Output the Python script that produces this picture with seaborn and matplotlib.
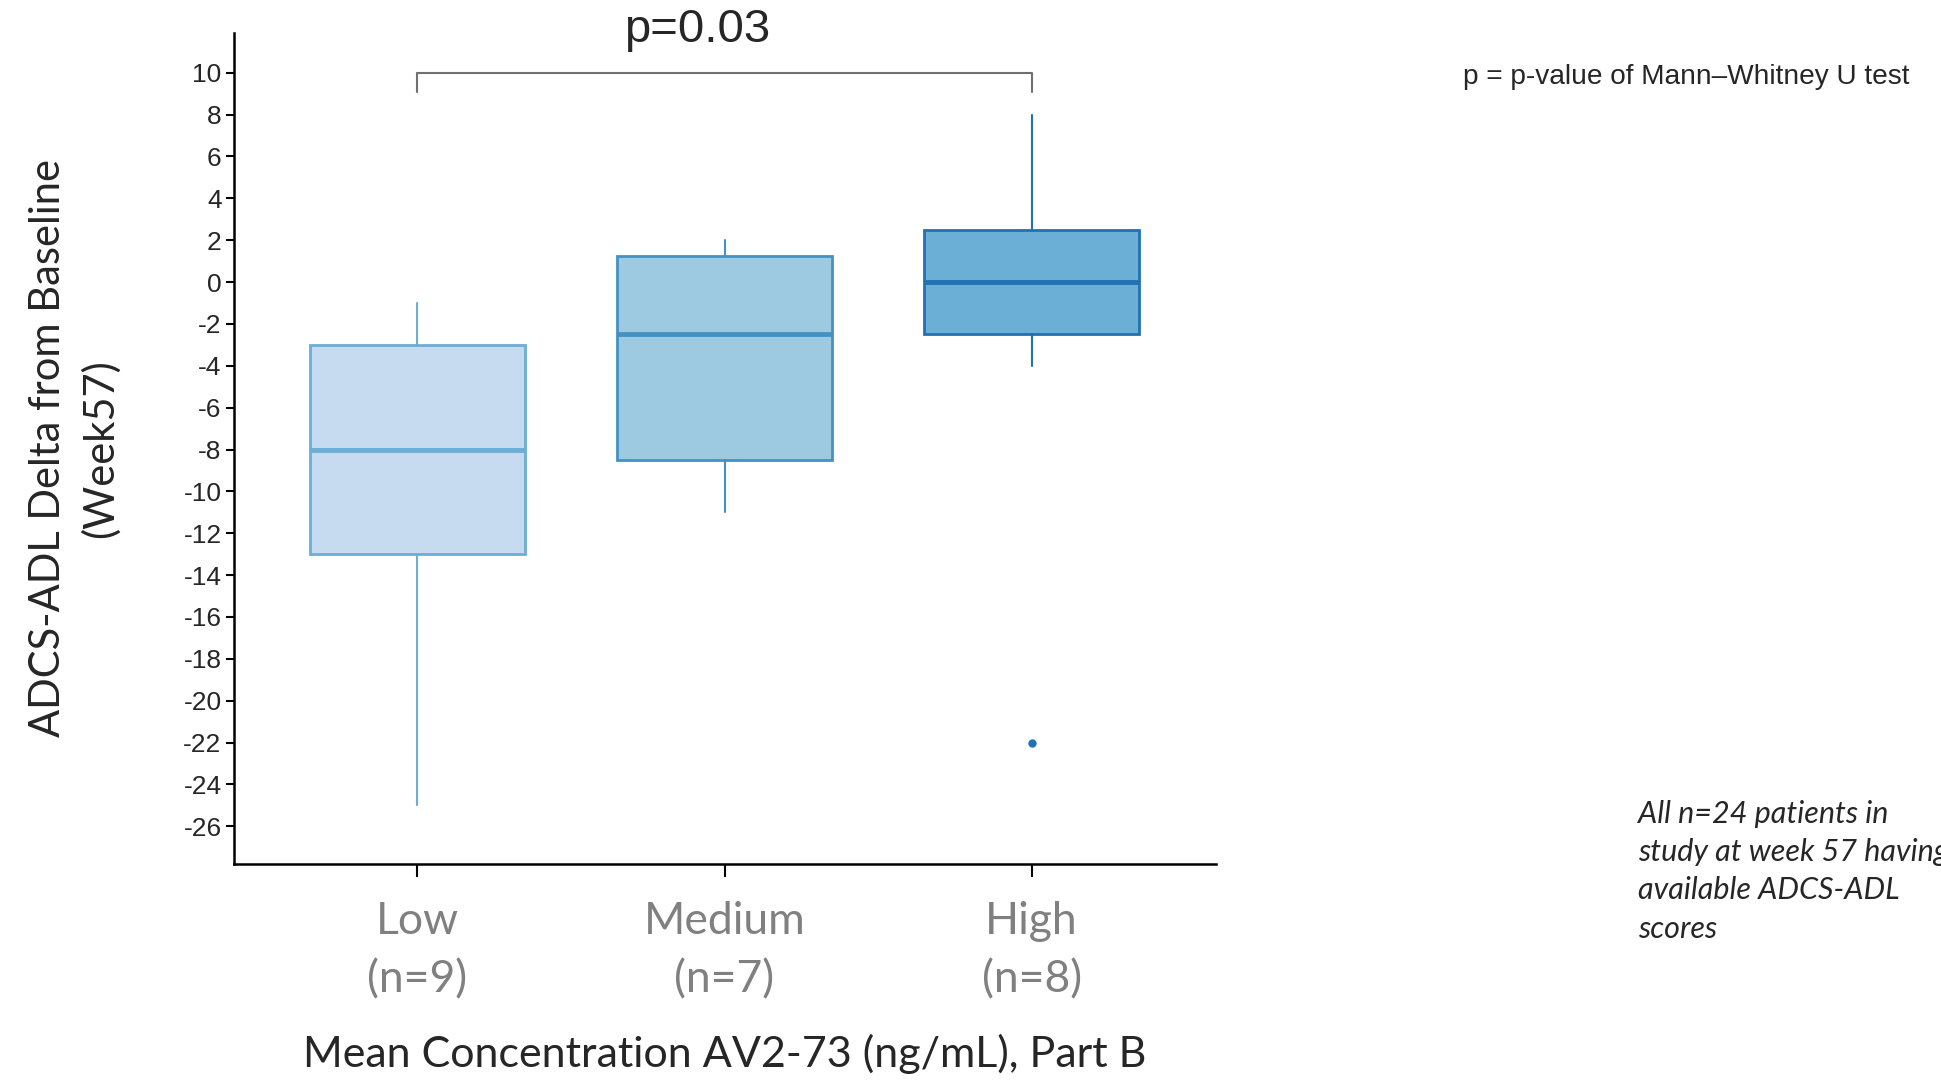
import seaborn as sns
import matplotlib.pyplot as plt

# values
groups = ['Low', 'Medium', 'High']
n_per_group = [9, 7, 8]
whisker_low = [-25, -11, -4]
q1 = [-13, -8.5, -2.5]
medians = [-8, -2.5, 0]
q3 = [-3, 1.25, 2.5]
whisker_high = [-1, 2, 8]
outliers = [[], [], [-22]]
p_value = 0.03

fills = ['#c6dbef', '#9ecae1', '#6baed6']
edges = ['#6baed6', '#4292c6', '#2171b5']

sns.set_theme(style='ticks')
plt.rcParams['font.family'] = ['Liberation Sans', 'DejaVu Sans']

fig = plt.figure(figsize=(19.41, 10.82), dpi=100)
ax = fig.add_axes([0.1206, 0.2015, 0.506, 0.768])

stats = []
for i, g in enumerate(groups):
    stats.append(dict(label=g, whislo=whisker_low[i], q1=q1[i], med=medians[i],
                      q3=q3[i], whishi=whisker_high[i], fliers=outliers[i]))

bp = ax.bxp(stats, positions=range(len(groups)), widths=0.7, patch_artist=True,
            showcaps=False)
for i in range(len(groups)):
    bp['boxes'][i].set(facecolor=fills[i], edgecolor=edges[i], linewidth=2)
    bp['medians'][i].set(color=edges[i], linewidth=3.5)
    for w in bp['whiskers'][2 * i:2 * i + 2]:
        w.set(color=edges[i], linewidth=1.5)
    bp['fliers'][i].set(marker='o', markersize=5, markerfacecolor=edges[i],
                        markeredgecolor=edges[i])

ax.set_xlim(-0.597, 2.601)
ax.set_ylim(-27.8, 11.9)
ax.set_yticks(range(-26, 11, 2))
ax.set_yticklabels([str(v) for v in range(-26, 11, 2)], fontsize=19,
                   family=['Liberation Sans Narrow', 'Liberation Sans'])
ax.set_xticks(range(len(groups)))
ax.set_xticklabels([f'{g}\n(n={n})' for g, n in zip(groups, n_per_group)],
                   fontsize=32, color='#808080', family='Lato', linespacing=1.5)
ax.tick_params(axis='y', length=6, width=1.5, color='black', pad=3)
ax.tick_params(axis='x', length=9, width=1.5, color='black', pad=18)
for s in ['left', 'bottom']:
    ax.spines[s].set_linewidth(1.8)
    ax.spines[s].set_color('black')
sns.despine(ax=ax)

ax.set_ylabel('ADCS-ADL Delta from Baseline\n(Week57)', fontsize=30, family='Lato',
              labelpad=46, linespacing=1.4)
ax.set_xlabel('Mean Concentration AV2-73 (ng/mL), Part B', fontsize=31, family='Lato',
              labelpad=24)

# significance bracket between Low and High
ax.plot([0, 0, 2, 2], [9.1, 10, 10, 9.1], color='#707070', linewidth=1.5, clip_on=False)
ax.text(1.0 - 0.09, 12.05, f'p={p_value}', ha='center', va='center', fontsize=34,
        family=['Liberation Sans Narrow', 'Liberation Sans'], clip_on=False)

fig.text(0.7537, 0.929, 'p = p-value of Mann\u2013Whitney U test', fontsize=20.2,
         family='Liberation Sans', ha='left', va='center')
fig.text(0.8439, 0.261, 'All n=24 patients in\nstudy at week 57 having\navailable ADCS-ADL\nscores',
         fontsize=22, family='Lato', style='italic', ha='left', va='top', linespacing=1.45)

fig.savefig('out.png', dpi=100)
